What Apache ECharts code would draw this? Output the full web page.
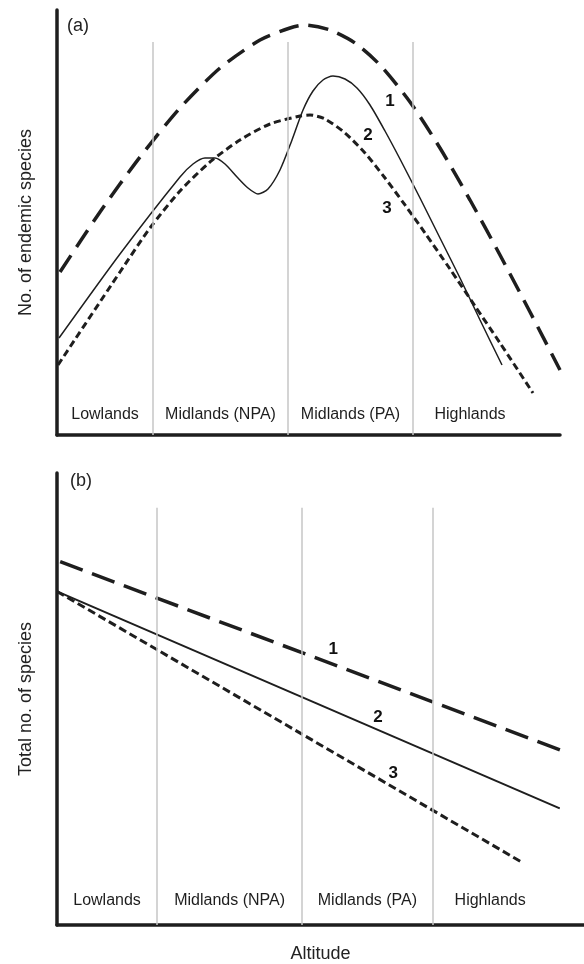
<!DOCTYPE html>
<html><head><meta charset="utf-8">
<script src="https://cdn.jsdelivr.net/npm/echarts@6.0.0/dist/echarts.min.js"></script>
<style>html,body{margin:0;padding:0;background:#fff}#c{width:584px;height:964px}</style>
</head><body><div id="c"></div>
<script>
// ---- data (arbitrary 0-100 units) ----
const zones = ['Lowlands', 'Midlands (NPA)', 'Midlands (PA)', 'Highlands'];
const zoneBoundsA = [0, 19.1, 45.9, 70.8, 93.4];
const zoneBoundsB = [0, 19.0, 46.5, 71.3, 93.1];
const seriesNames = ['1', '2', '3'];

const endemic1 = [[0.6,38.35],[8.55,52.47],[16.5,65.41],[24.45,76.94],[32.41,86.35],[40.36,92.94],[46.32,95.76],[49.3,96.47],[54.27,95.29],[59.24,92.24],[64.21,87.06],[70.18,78.35],[76.14,67.53],[82.11,55.29],[88.07,42.35],[94.04,28.94],[100,15.29]];
const endemic2 = [[0.4,22.82],[12.52,42.59],[24.45,60.71],[27.04,63.76],[29.42,65.18],[31.41,65.18],[33.4,63.76],[35.79,60.71],[37.97,58.12],[39.96,56.71],[41.95,57.88],[44.33,62.35],[46.72,69.41],[48.91,76.47],[50.89,80.94],[52.88,83.53],[54.87,84.47],[57.26,83.76],[59.64,81.65],[62.23,77.65],[65.21,71.53],[68.19,64.94],[72.17,55.76],[76.14,46.35],[80.12,36.94],[84.1,27.06],[88.47,16.47]];
const endemic3 = [[0.2,16.47],[12.52,38.35],[18.49,48.71],[24.45,57.41],[30.42,64.24],[36.38,69.41],[42.35,73.18],[48.31,75.06],[50.3,75.29],[53.28,74.35],[57.26,71.06],[61.23,66.35],[65.21,60.47],[69.18,54.12],[73.16,47.53],[78.13,39.06],[83.1,30.35],[88.07,21.65],[94.63,9.88]];

const total1 = [[0.6,80.4],[96.0,38.5]];
const total2 = [[0,73.8],[95.4,25.8]];
const total3 = [[0,73.8],[87.9,14.1]];

// ---- presentation ----
const FONT = '"Liberation Sans", Arial, Helvetica, sans-serif';
const INK = '#1e1e1e';
const styles = [
  {width: 3.5, type: [20, 10]},
  {width: 1.5, type: 'solid'},
  {width: 3, type: [7, 4]}
];
const stylesB = [
  {width: 3.5, type: [24, 10]},
  {width: 2, type: 'solid'},
  {width: 3, type: [8, 4]}
];
const numLabelPosA = [[66.2,78.4],[61.8,70.6],[65.6,53.4]];
const numLabelPosB = [[52.4,61.0],[60.9,46.0],[63.8,33.5]];

function axisPair(gridIndex, yName, xName) {
  const axLine = {show: true, lineStyle: {color: INK, width: 3.5}};
  return {
    x: {type: 'value', gridIndex, min: 0, max: 100, axisLine: axLine, axisTick: {show: false},
        axisLabel: {show: false}, splitLine: {show: false},
        name: xName || '', nameLocation: 'middle', nameGap: 20,
        nameTextStyle: {fontFamily: FONT, fontSize: 18, color: '#222'}},
    y: {type: 'value', gridIndex, min: 0, max: 100, axisLine: axLine, axisTick: {show: false},
        axisLabel: {show: false}, splitLine: {show: false},
        name: yName, nameLocation: 'middle', nameGap: 22, nameRotate: 90,
        nameTextStyle: {fontFamily: FONT, fontSize: 18, color: '#222'}}
  };
}

function panelSeries(idx, lines, lstyles, bounds, dividerTop, labelY, numPos) {
  const out = [];
  lines.forEach((d, i) => {
    out.push({type: 'line', xAxisIndex: idx, yAxisIndex: idx, data: d, smooth: idx === 0 ? 0.25 : false,
      showSymbol: false, symbol: 'none', silent: true,
      lineStyle: {color: INK, width: lstyles[i].width, type: lstyles[i].type, cap: 'butt'}, z: 3});
  });
  const mids = zones.map((z, i) => [(bounds[i] + bounds[i + 1]) / 2, labelY, z]);
  out.push({type: 'scatter', xAxisIndex: idx, yAxisIndex: idx, data: mids, symbolSize: 1,
    itemStyle: {color: 'rgba(0,0,0,0)'}, silent: true,
    label: {show: true, position: 'inside', formatter: p => p.data[2],
      fontFamily: FONT, fontSize: 16, color: '#1e1e1e', textBorderWidth: 0, opacity: 1},
    markLine: {silent: true, symbol: ['none', 'none'], label: {show: false},
      lineStyle: {color: '#c6c6c6', width: 1.5, type: 'solid'},
      data: bounds.slice(1, 4).map(b => [{coord: [b, 0]}, {coord: [b, dividerTop]}])}
  });
  out.push({type: 'scatter', xAxisIndex: idx, yAxisIndex: idx,
    data: numPos.map((p, i) => [p[0], p[1], seriesNames[i]]), symbolSize: 1,
    itemStyle: {color: 'rgba(0,0,0,0)'}, silent: true,
    label: {show: true, position: 'inside', formatter: p => p.data[2],
      fontFamily: FONT, fontSize: 17, fontWeight: 'bold', color: '#111', textBorderWidth: 0, opacity: 1}, z: 5});
  return out;
}

const a = axisPair(0, 'No. of endemic species');
const b = axisPair(1, 'Total no. of species', 'Altitude');

const option = {
  animation: false,
  backgroundColor: '#fff',
  grid: [
    {left: 57, top: 10, width: 503, height: 425},
    {left: 57, top: 473, width: 527, height: 454}
  ],
  xAxis: [a.x, b.x],
  yAxis: [a.y, b.y],
  graphic: [
    {type: 'text', left: 67, top: 17, style: {text: '(a)', fontFamily: FONT, fontSize: 18, fill: '#222'}},
    {type: 'text', left: 70, top: 472, style: {text: '(b)', fontFamily: FONT, fontSize: 18, fill: '#222'}}
  ],
  series: [].concat(
    panelSeries(0, [endemic1, endemic2, endemic3], styles, zoneBoundsA, 92.5, 4.8, numLabelPosA),
    panelSeries(1, [total1, total2, total3], stylesB, zoneBoundsB, 92.3, 5.5, numLabelPosB)
  )
};
const chart = echarts.init(document.getElementById('c'), null, {renderer: 'canvas'});
chart.setOption(option);
</script></body></html>
